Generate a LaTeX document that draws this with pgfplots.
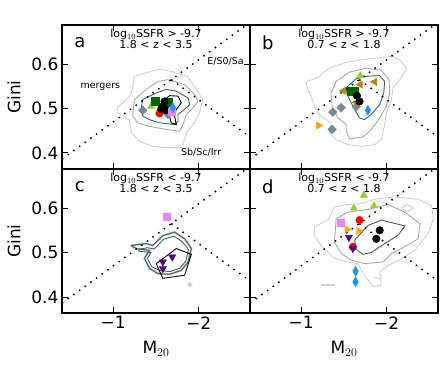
\documentclass[border=0pt]{standalone}
\usepackage{fontspec}
\setmainfont{DejaVu Sans}
\usepackage{pgfplots}
\pgfplotsset{compat=1.18}
\usepgfplotslibrary{groupplots}
\usetikzlibrary{calc}

\definecolor{slate}{HTML}{778899}
\definecolor{ygreen}{HTML}{9ACD32}
\definecolor{dgreen}{HTML}{006400}
\definecolor{dblue}{HTML}{1E90FF}
\definecolor{violetc}{HTML}{EE82EE}
\definecolor{goldd}{HTML}{B8860B}
\definecolor{orangec}{HTML}{FFA500}
\definecolor{indigoc}{HTML}{4B0082}
\definecolor{cA}{HTML}{D0D0D0}
\definecolor{cB}{HTML}{A4AAAA}
\definecolor{cC}{HTML}{3F5F5F}

\pgfplotsset{
  lotz/.style={black, line width=1.5pt, dash pattern=on 1.5pt off 5.5pt, mark=none},
  ctA/.style={cA, line width=0.9pt, mark=none},
  ctB/.style={cB, line width=0.9pt, mark=none},
  ctC/.style={cC, line width=0.9pt, mark=none},
  ctD/.style={black, line width=0.9pt, mark=none},
  dia/.style={only marks, mark=square*, mark size=3.1pt, mark options={rotate=45}},
  sq/.style={only marks, mark=square*, mark size=4pt},
  circ/.style={only marks, mark=*, mark size=3.8pt},
  tup/.style={only marks, mark=triangle*, mark size=4.2pt},
  tdown/.style={only marks, mark=triangle*, mark size=4.2pt, mark options={rotate=180}},
  tleft/.style={only marks, mark=triangle*, mark size=4.2pt, mark options={rotate=90}},
  tright/.style={only marks, mark=triangle*, mark size=4.2pt, mark options={rotate=-90}},
  thin dia/.style={only marks, mark=diamond*, mark size=5pt, mark options={xscale=0.75}},
}

\newcommand{\lotzlines}{%
  \addplot[lotz] coordinates {(-0.4,0.386) (-2.6,0.694)};
  \addplot[lotz] coordinates {(-1.679,0.565) (-2.6,0.436)};
}
\newcommand{\paneltext}[3]{%
  \node[font=\fontsize{18}{18}\selectfont] at (rel axis cs:0.095,0.875) {#1};
  \node[anchor=north, align=center, font=\fontsize{11}{11.5}\selectfont, inner sep=0pt]
    at (rel axis cs:0.5,0.975) {$\log_{10}$SSFR #2 -9.7\\#3};
}

\begin{document}
\begin{tikzpicture}
\begin{groupplot}[
  group style={group size=2 by 2, horizontal sep=0pt, vertical sep=0pt,
    xticklabels at=edge bottom, yticklabels at=edge left,
    xlabels at=edge bottom, ylabels at=edge left},
  width=188pt, height=144pt, scale only axis,
  xmin=-2.6, xmax=-0.4, x dir=reverse,
  ymin=0.364, ymax=0.688,
  xtick={-2,-1}, xticklabels={−2,−1},
  ytick={0.4,0.5,0.6}, yticklabels={0.4,0.5,0.6},
  tick align=inside, major tick length=6pt,
  tick style={black, line width=1pt},
  axis line style={line width=1.3pt},
  tick label style={font=\fontsize{17}{17}\selectfont},
  label style={font=\fontsize{17}{17}\selectfont},
  xlabel style={yshift=-5pt},
  ylabel style={yshift=4pt},
]

% (a) high SSFR, 1.8<z<3.5
\nextgroupplot[ylabel={Gini}]
\addplot[ctA] coordinates {(-1.247,0.572) (-1.424,0.583) (-1.541,0.588) (-1.694,0.583) (-1.871,0.572) (-1.976,0.543) (-2.047,0.520) (-2.012,0.491) (-1.953,0.469) (-1.859,0.446) (-1.800,0.412) (-1.624,0.412) (-1.459,0.415) (-1.306,0.426) (-1.212,0.446) (-1.188,0.475) (-1.047,0.491) (-1.047,0.502) (-1.188,0.527) (-1.224,0.543) (-1.247,0.572)};
\addplot[ctB] coordinates {(-1.227,0.483) (-1.247,0.520) (-1.384,0.543) (-1.522,0.561) (-1.639,0.565) (-1.835,0.554) (-1.953,0.531) (-1.992,0.516) (-1.933,0.502) (-1.855,0.487) (-1.816,0.464) (-1.776,0.449) (-1.620,0.453) (-1.424,0.460) (-1.286,0.468) (-1.227,0.483)};
\addplot[ctC] coordinates {(-1.325,0.498) (-1.345,0.520) (-1.502,0.535) (-1.620,0.543) (-1.737,0.539) (-1.875,0.524) (-1.894,0.509) (-1.835,0.498) (-1.757,0.487) (-1.757,0.471) (-1.718,0.464) (-1.541,0.468) (-1.424,0.475) (-1.345,0.483) (-1.325,0.498)};
\addplot[ctD] coordinates {(-1.600,0.520) (-1.659,0.529) (-1.757,0.528) (-1.796,0.513) (-1.737,0.498) (-1.718,0.483) (-1.737,0.464) (-1.678,0.468) (-1.651,0.487) (-1.600,0.505) (-1.600,0.520)};
\lotzlines
\addplot[dia, slate] coordinates {(-1.345,0.496) (-1.639,0.487)};
\addplot[tup, ygreen] coordinates {(-1.443,0.505)};
\addplot[sq, dgreen] coordinates {(-1.494,0.516) (-1.639,0.514)};
\addplot[circ, red] coordinates {(-1.541,0.489)};
\addplot[circ, black] coordinates {(-1.580,0.505) (-1.600,0.516) (-1.620,0.496) (-1.561,0.499)};
\addplot[sq, violetc, mark size=3.5pt] coordinates {(-1.678,0.492)};
\addplot[thin dia, dblue] coordinates {(-1.698,0.502)};
\paneltext{a}{>}{1.8 < z < 3.5}
\node[anchor=west, font=\fontsize{9.5}{9.5}\selectfont] at (axis cs:-0.576,0.549) {mergers};
\node[anchor=west, font=\fontsize{9.5}{9.5}\selectfont] at (axis cs:-2.06,0.606) {E/S0/Sa};
\node[anchor=west, font=\fontsize{9.5}{9.5}\selectfont] at (axis cs:-1.753,0.402) {Sb/Sc/Irr};

% (b) high SSFR, 0.7<z<1.8
\nextgroupplot
\addplot[ctA] coordinates {(-1.055,0.561) (-1.192,0.569) (-1.329,0.591) (-1.526,0.604) (-1.722,0.610) (-1.898,0.614) (-2.075,0.618) (-2.173,0.606) (-2.232,0.588) (-2.153,0.565) (-2.075,0.547) (-2.055,0.520) (-1.996,0.490) (-1.976,0.464) (-1.937,0.430) (-1.859,0.419) (-1.702,0.415) (-1.545,0.419) (-1.408,0.430) (-1.329,0.445) (-1.349,0.468) (-1.231,0.483) (-1.153,0.505) (-1.114,0.528) (-1.067,0.549) (-1.055,0.561)};
\addplot[ctB] coordinates {(-1.349,0.535) (-1.408,0.561) (-1.565,0.582) (-1.761,0.591) (-1.937,0.586) (-2.027,0.565) (-2.035,0.535) (-1.996,0.505) (-1.918,0.479) (-1.820,0.453) (-1.722,0.436) (-1.565,0.432) (-1.526,0.449) (-1.526,0.464) (-1.427,0.479) (-1.361,0.505) (-1.349,0.535)};
\addplot[ctC] coordinates {(-1.526,0.547) (-1.643,0.567) (-1.780,0.573) (-1.918,0.574) (-1.976,0.561) (-1.965,0.535) (-1.918,0.509) (-1.820,0.487) (-1.741,0.475) (-1.682,0.479) (-1.624,0.498) (-1.584,0.513) (-1.537,0.531) (-1.526,0.547)};
\lotzlines
\addplot[dia, slate] coordinates {(-1.369,0.492) (-1.467,0.502) (-1.643,0.504) (-1.361,0.453)};
\addplot[tright, orangec] coordinates {(-1.204,0.462)};
\addplot[tleft, goldd] coordinates {(-1.494,0.540) (-1.690,0.554) (-1.859,0.560) (-1.643,0.514)};
\addplot[sq, dgreen] coordinates {(-1.584,0.539) (-1.620,0.538)};
\addplot[tup, ygreen] coordinates {(-1.690,0.574)};
\addplot[circ, black] coordinates {(-1.651,0.529) (-1.682,0.516)};
\addplot[thin dia, dblue] coordinates {(-1.780,0.496)};
\paneltext{b}{>}{0.7 < z < 1.8}

% (c) low SSFR, 1.8<z<3.5
\nextgroupplot[ylabel={Gini}, xlabel={M$_{20}$}]
\addplot[cA, line width=2.4pt, mark=none] coordinates {(-1.208,0.516) (-1.384,0.520) (-1.462,0.516) (-1.580,0.538) (-1.718,0.546) (-1.835,0.531) (-1.914,0.509) (-1.875,0.479) (-1.796,0.460) (-1.659,0.451) (-1.522,0.453) (-1.424,0.464) (-1.365,0.487) (-1.424,0.505) (-1.267,0.509) (-1.208,0.516)};
\addplot[cB, line width=1.4pt, mark=none] coordinates {(-1.208,0.516) (-1.384,0.520) (-1.462,0.516) (-1.580,0.538) (-1.718,0.546) (-1.835,0.531) (-1.914,0.509) (-1.875,0.479) (-1.796,0.460) (-1.659,0.451) (-1.522,0.453) (-1.424,0.464) (-1.365,0.487) (-1.424,0.505) (-1.267,0.509) (-1.208,0.516)};
\addplot[cC, line width=0.7pt, mark=none] coordinates {(-1.208,0.516) (-1.384,0.520) (-1.462,0.516) (-1.580,0.538) (-1.718,0.546) (-1.835,0.531) (-1.914,0.509) (-1.875,0.479) (-1.796,0.460) (-1.659,0.451) (-1.522,0.453) (-1.424,0.464) (-1.365,0.487) (-1.424,0.505) (-1.267,0.509) (-1.208,0.516)};
\addplot[ctC] coordinates {(-1.300,0.507) (-1.400,0.511) (-1.480,0.508) (-1.590,0.530) (-1.710,0.537) (-1.810,0.524) (-1.880,0.507) (-1.850,0.481) (-1.780,0.465) (-1.660,0.457) (-1.540,0.460) (-1.450,0.468) (-1.400,0.487) (-1.440,0.500) (-1.300,0.503) (-1.300,0.507)};
\addplot[ctD] coordinates {(-1.502,0.475) (-1.737,0.509) (-1.914,0.496) (-1.835,0.449) (-1.580,0.442) (-1.502,0.475)};
\addplot[only marks, mark=diamond*, mark size=2.5pt, cA, mark options={xscale=1.4}] coordinates {(-1.894,0.428)};
\lotzlines
\addplot[sq, violetc, mark size=3.5pt] coordinates {(-1.627,0.580)};
\addplot[tdown, indigoc] coordinates {(-1.580,0.479) (-1.690,0.490) (-1.580,0.464)};
\paneltext{c}{<}{1.8 < z < 3.5}

% (d) low SSFR, 0.7<z<1.8
\nextgroupplot[xlabel={M$_{20}$}]
\addplot[ctA] coordinates {(-1.153,0.558) (-1.310,0.573) (-1.388,0.603) (-1.545,0.608) (-1.702,0.610) (-1.859,0.620) (-2.094,0.625) (-2.369,0.620) (-2.525,0.606) (-2.545,0.576) (-2.486,0.543) (-2.329,0.505) (-2.173,0.486) (-2.015,0.471) (-1.918,0.457) (-1.937,0.427) (-1.839,0.423) (-1.741,0.449) (-1.663,0.475) (-1.545,0.479) (-1.388,0.487) (-1.231,0.516) (-1.153,0.539) (-1.153,0.558)};
\addplot[ctA] coordinates {(-2.173,0.600) (-2.243,0.608) (-2.313,0.600) (-2.243,0.592) (-2.173,0.600)};
\addplot[ctA] coordinates {(-1.230,0.428) (-1.390,0.428)};
\addplot[ctA] coordinates {(-1.230,0.425) (-1.390,0.425)};
\addplot[ctA] coordinates {(-1.850,0.445) (-1.930,0.440) (-1.930,0.452)};
\addplot[ctB] coordinates {(-1.388,0.524) (-1.408,0.576) (-1.545,0.591) (-1.780,0.597) (-2.015,0.608) (-2.212,0.591) (-2.388,0.565) (-2.369,0.531) (-2.173,0.509) (-2.055,0.498) (-1.957,0.479) (-1.741,0.475) (-1.584,0.483) (-1.467,0.498) (-1.388,0.524)};
\addplot[ctC] coordinates {(-1.624,0.528) (-1.780,0.561) (-1.937,0.573) (-2.212,0.560) (-2.133,0.539) (-1.976,0.520) (-1.820,0.500) (-1.722,0.496) (-1.643,0.507) (-1.624,0.528)};
\lotzlines
\addplot[tup, ygreen] coordinates {(-1.733,0.629) (-1.615,0.600) (-1.851,0.605)};
\addplot[circ, red] coordinates {(-1.682,0.573) (-1.604,0.513)};
\addplot[sq, violetc, mark size=3.5pt] coordinates {(-1.467,0.567)};
\addplot[tright, orangec] coordinates {(-1.537,0.552) (-1.671,0.549)};
\addplot[tdown, indigoc] coordinates {(-1.557,0.534) (-1.604,0.509)};
\addplot[circ, black] coordinates {(-1.918,0.550) (-1.878,0.531)};
\addplot[thin dia, dblue] coordinates {(-1.635,0.458) (-1.635,0.434)};
\paneltext{d}{<}{0.7 < z < 1.8}
\end{groupplot}
\pgfresetboundingbox
\path[use as bounding box] ($(group c1r1.north west)+(-62pt,25pt)$) rectangle ($(group c2r2.south east)+(5pt,-53pt)$);
\end{tikzpicture}
\end{document}
